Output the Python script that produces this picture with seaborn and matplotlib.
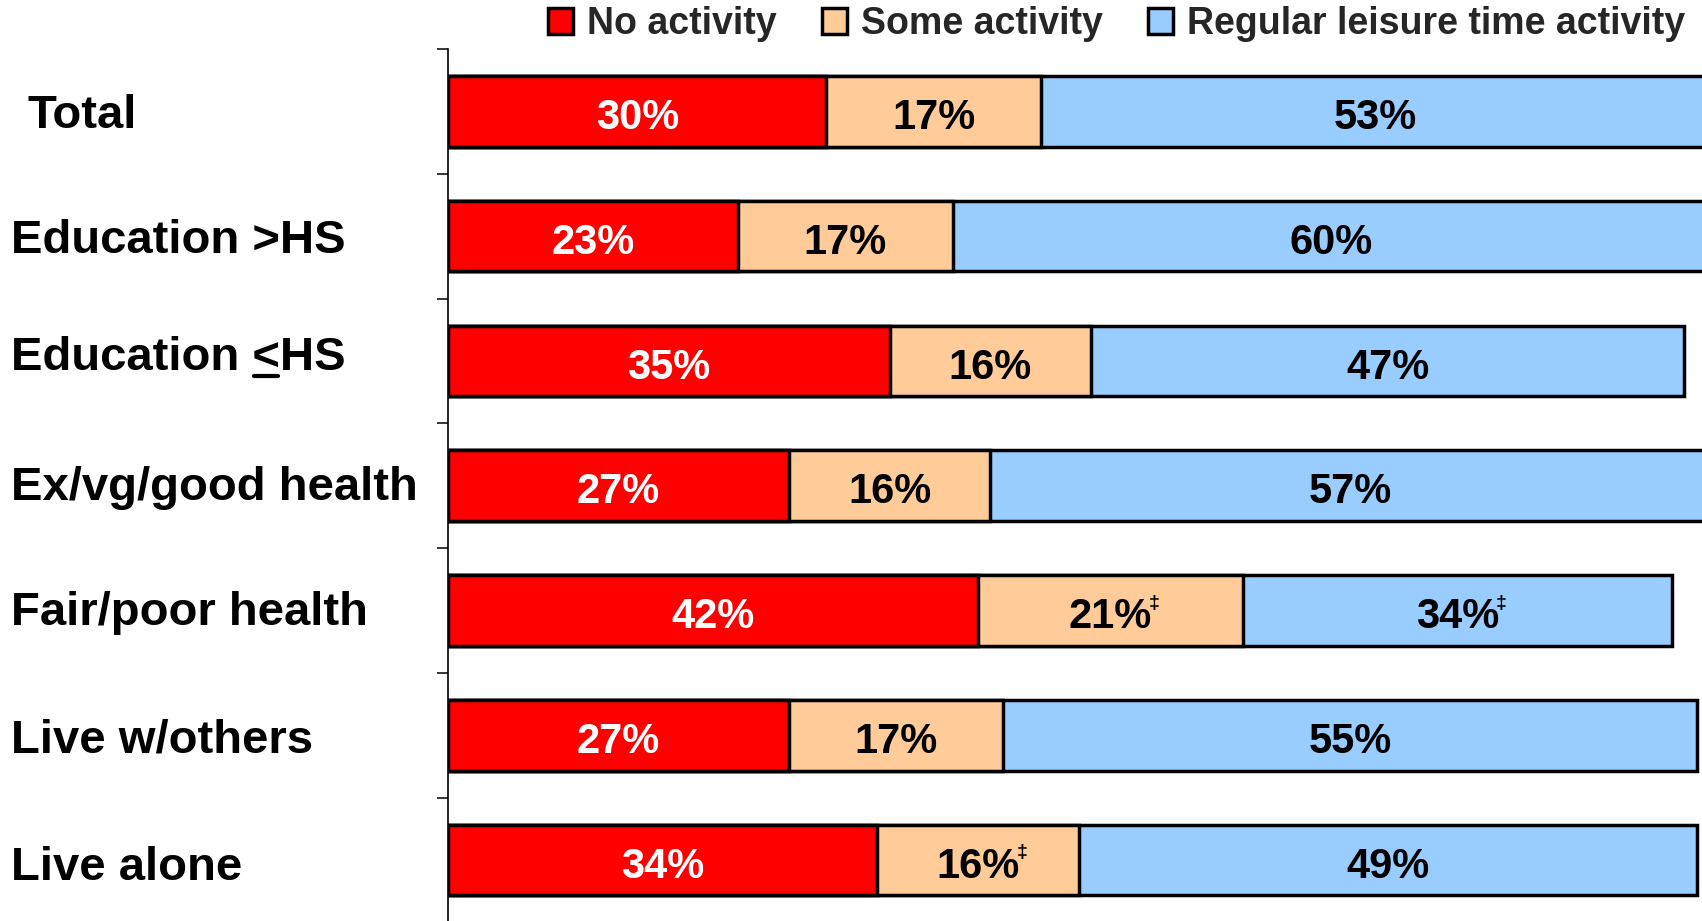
import numpy as np
import pandas as pd
import matplotlib
matplotlib.use('Agg')
import matplotlib.pyplot as plt
import matplotlib.transforms as mtransforms
from matplotlib.lines import Line2D
from matplotlib.patches import Patch
import seaborn as sns

# data
categories = ['Total', 'Education >HS', 'Education <HS', 'Ex/vg/good health',
              'Fair/poor health', 'Live w/others', 'Live alone']
no_activity = [30, 23, 35, 27, 42, 27, 34]
some_activity = [17, 17, 16, 16, 21, 17, 16]
regular_activity = [53, 60, 47, 57, 34, 55, 49]
# ‡ marks next to the value
some_flag = [False, False, False, False, True, False, True]
regular_flag = [False, False, False, False, True, False, False]

series_names = ['No activity', 'Some activity', 'Regular leisure time activity']
colors = ['#FF0000', '#FFCC99', '#99CCFF']
text_colors = ['white', 'black', 'black']

sns.set_style('white')
plt.rcParams['font.family'] = ['Liberation Sans', 'DejaVu Sans']
plt.rcParams['font.weight'] = 'bold'

df = pd.DataFrame({'category': categories,
                   'no': no_activity,
                   'some': some_activity,
                   'regular': regular_activity})
df['cum1'] = df['no']
df['cum2'] = df['no'] + df['some']
df['cum3'] = df['no'] + df['some'] + df['regular']

fig = plt.figure(figsize=(17.02, 9.21), dpi=100)
ax = fig.add_axes([0.2632, -0.0017, 0.7368, 0.9486])

# stacked bars: draw the longest first
for col, color in zip(['cum3', 'cum2', 'cum1'], colors[::-1]):
    sns.barplot(data=df, x=col, y='category', orient='h', color=color,
                saturation=1, width=0.565, edgecolor='black', linewidth=2.5,
                ax=ax)

ax.set_xlim(0, 99.4)
ax.set_yticks(np.arange(-0.5, len(categories) + 0.5, 1))
ax.set_yticklabels([])
ax.set_ylim(len(categories) - 0.5, -0.5)
ax.set_xticks([])
ax.set_xlabel('')
ax.set_ylabel('')
for s in ['top', 'right', 'bottom']:
    ax.spines[s].set_visible(False)
ax.spines['left'].set_linewidth(1.2)
ax.spines['left'].set_color('black')
ax.tick_params(axis='y', length=8, width=1.1, direction='out', color='black', left=True)

# value labels
series_vals = [no_activity, some_activity, regular_activity]
flags = [[False] * len(categories), some_flag, regular_flag]
for i in range(len(categories)):
    left = 0
    for k in range(3):
        v = series_vals[k][i]
        t = ax.text(left + v / 2, i + 0.018, f'{v}%', ha='center', va='center_baseline',
                    fontsize=30, fontweight='bold', color=text_colors[k])
        if flags[k][i]:
            ax.annotate('\u2021', xy=(1, 1), xycoords=t, xytext=(-2, 2),
                        textcoords='offset points', ha='left', va='top',
                        fontsize=14, fontweight='bold', color='black')
        left += v

# category labels
trans = mtransforms.blended_transform_factory(fig.transFigure, ax.transData)
label_y_shift = [0.0, 0.0, -0.06, -0.02, -0.02, 0.0, 0.02]
label_texts = []
for i, cat in enumerate(categories):
    x = 0.016 if i == 0 else 0.0065
    t = ax.text(x, i + label_y_shift[i], cat, transform=trans, ha='left',
                va='center_baseline', fontsize=34, fontweight='bold', color='black')
    label_texts.append(t)

# underline the "<" in "Education <HS" (means <=)
fig.canvas.draw()
renderer = fig.canvas.get_renderer()
t = label_texts[2]
bb = t.get_window_extent(renderer)
probe = fig.text(0, 0, 'Education <', fontsize=34, fontweight='bold')
w_pre = probe.get_window_extent(renderer).width
probe.set_text('<')
w_lt = probe.get_window_extent(renderer).width
probe.remove()
x1 = bb.x0 + w_pre
x0 = x1 - w_lt
y_u = bb.y0 + 4
inv = fig.transFigure.inverted()
(fx0, fy), (fx1, _) = inv.transform([(x0 + 2, y_u), (x1 - 2, y_u)])
fig.add_artist(Line2D([fx0, fx1], [fy, fy], transform=fig.transFigure,
                      color='black', linewidth=3))

# legend
handles = [Patch(facecolor=c, edgecolor='black', linewidth=2.5) for c in colors]
leg = fig.legend(handles, series_names, loc='center right',
                 bbox_to_anchor=(0.99, 0.974), ncol=3, frameon=False,
                 prop={'size': 27, 'weight': 'bold'},
                 handlelength=0.67, handleheight=0.67, handletextpad=0.37,
                 columnspacing=1.2, borderpad=0, borderaxespad=0)

fig.savefig('out.png', dpi=100)
